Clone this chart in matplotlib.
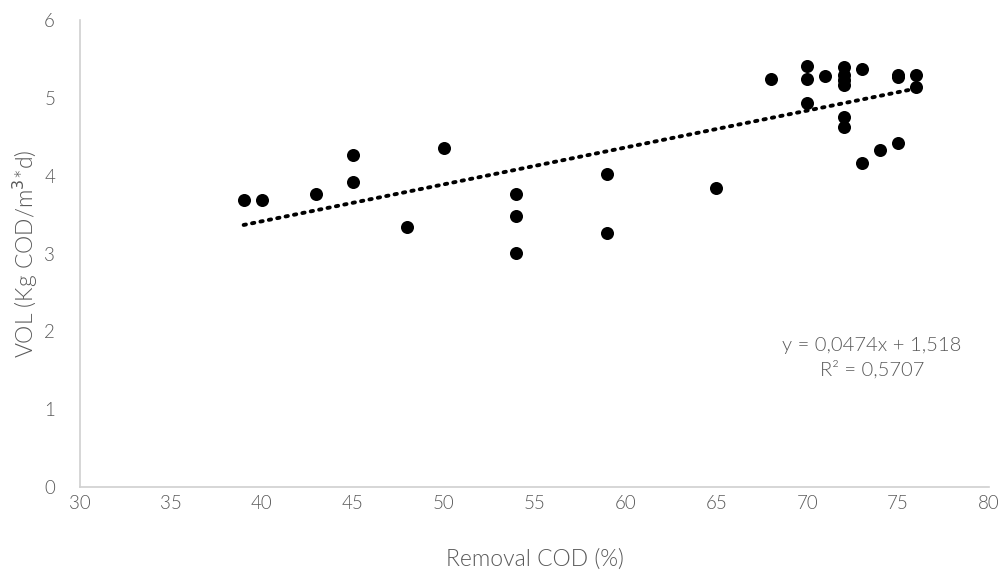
import numpy as np
import matplotlib.pyplot as plt

plt.rcParams['font.family'] = ['Lato', 'DejaVu Sans']
plt.rcParams['font.weight'] = 300

# Data
removal_cod = [39, 40, 43, 45, 45, 48, 50, 54, 54, 54, 59, 59, 65, 68,
               70, 70, 70, 71, 72, 72, 72, 72, 72, 72, 73, 73, 74,
               75, 75, 75, 76, 76]
vol = [3.69, 3.69, 3.77, 4.27, 3.92, 3.34, 4.35, 3.77, 3.48, 3.01, 4.02, 3.26, 3.84, 5.24,
       5.41, 5.24, 4.94, 5.28, 5.40, 5.30, 5.23, 5.16, 4.75, 4.63, 5.37, 4.16, 4.33,
       5.30, 5.27, 4.42, 5.30, 5.14]

# Trendline as given on the chart
slope = 0.0474
intercept = 1.518
r2 = 0.5707

x_ticks = [30, 35, 40, 45, 50, 55, 60, 65, 70, 75, 80]
y_ticks = [0, 1, 2, 3, 4, 5, 6]

grey = '#595959'

fig = plt.figure(figsize=(10.03, 5.72), dpi=100)
ax = fig.add_axes([0.0798, 0.1486, 0.9062, 0.8164])

ax.scatter(removal_cod, vol, s=88, color='black', zorder=3, linewidths=0)

xs = np.array([min(removal_cod), max(removal_cod)])
ax.plot(xs, slope * xs + intercept, color='black', linestyle=(0, (0.6, 1.6)),
        linewidth=2.8, dash_capstyle='round', zorder=2)

ax.set_xlim(30, 80)
ax.set_ylim(0, 6)
ax.set_xticks(x_ticks)
ax.set_yticks(y_ticks)
ax.tick_params(length=0, labelsize=13.5, colors=grey)
ax.tick_params(axis='x', pad=6)
ax.tick_params(axis='y', pad=18)
for lbl in ax.get_xticklabels() + ax.get_yticklabels():
    lbl.set_fontweight(300)

for side in ['top', 'right']:
    ax.spines[side].set_visible(False)
for side in ['left', 'bottom']:
    ax.spines[side].set_color('#d0d0d0')
    ax.spines[side].set_linewidth(1.2)

ax.set_xlabel('Removal COD (%)', fontsize=16.5, color=grey, labelpad=26, fontweight=300)
ax.set_ylabel('VOL (Kg COD/m$^3$*d)', fontsize=16.5, color=grey, labelpad=3, fontweight=300)

eq = f'y = {slope:.4f}x + {intercept:.3f}'.replace('.', ',')
r2_txt = f'R² = {r2:.4f}'.replace('.', ',')
ax.text(73.56, 1.66, eq + '\n' + r2_txt, ha='center', va='center',
        fontsize=14.5, color=grey, linespacing=1.45, fontweight=300)

fig.savefig('out.png', dpi=100)
